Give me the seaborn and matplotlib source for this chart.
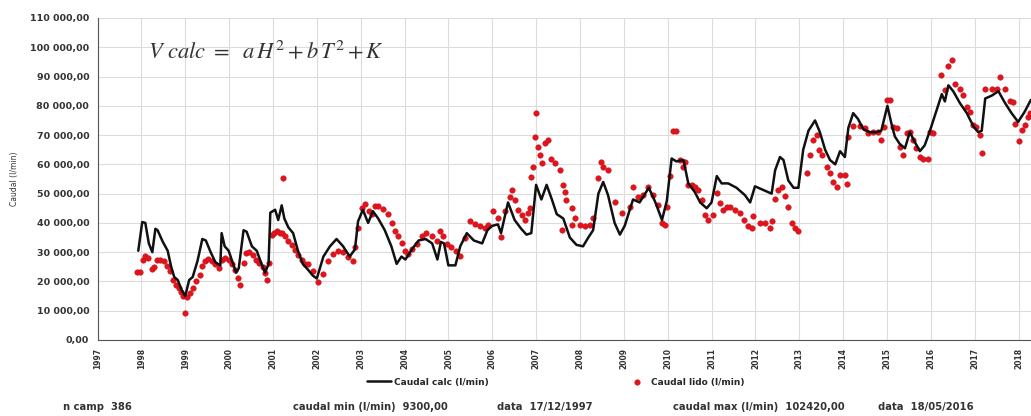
import matplotlib
matplotlib.use("Agg")
import matplotlib.pyplot as plt
import matplotlib.ticker as mticker
import seaborn as sns
import pandas as pd

# ---------------- data ----------------
calc_year = [1997.93, 1998.02, 1998.09, 1998.17, 1998.25, 1998.32, 1998.37, 1998.49, 1998.60, 1998.68,
             1998.75, 1998.83, 1998.92, 1999.00, 1999.09, 1999.17, 1999.28, 1999.39, 1999.47, 1999.58,
             1999.69, 1999.80, 1999.83, 1999.90, 1999.99, 2000.07, 2000.16, 2000.22, 2000.33, 2000.40,
             2000.52, 2000.63, 2000.74, 2000.82, 2000.90, 2000.94, 2001.05, 2001.12, 2001.20, 2001.26,
             2001.35, 2001.46, 2001.57, 2001.68, 2001.80, 2001.91, 2002.00, 2002.15, 2002.30, 2002.45,
             2002.60, 2002.75, 2002.87, 2002.94, 2003.05, 2003.17, 2003.28, 2003.40, 2003.55, 2003.70,
             2003.82, 2003.93, 2004.02, 2004.17, 2004.32, 2004.48, 2004.63, 2004.75, 2004.83, 2004.90,
             2005.00, 2005.16, 2005.27, 2005.42, 2005.58, 2005.77, 2005.89, 2006.00, 2006.13, 2006.20,
             2006.36, 2006.51, 2006.66, 2006.78, 2006.89, 2007.00, 2007.12, 2007.24, 2007.36, 2007.47,
             2007.62, 2007.77, 2007.92, 2008.07, 2008.19, 2008.30, 2008.42, 2008.53, 2008.64, 2008.79,
             2008.91, 2009.02, 2009.21, 2009.36, 2009.57, 2009.72, 2009.87, 2009.98, 2010.09, 2010.20,
             2010.36, 2010.47, 2010.62, 2010.74, 2010.89, 2011.00, 2011.12, 2011.23, 2011.38, 2011.57,
             2011.76, 2011.88, 2011.99, 2012.14, 2012.37, 2012.45, 2012.56, 2012.64, 2012.75, 2012.87,
             2012.98, 2013.09, 2013.21, 2013.36, 2013.47, 2013.59, 2013.70, 2013.82, 2013.93, 2014.04,
             2014.12, 2014.23, 2014.34, 2014.46, 2014.61, 2014.76, 2014.87, 2015.01, 2015.10, 2015.18,
             2015.29, 2015.41, 2015.52, 2015.64, 2015.75, 2015.86, 2015.98, 2016.13, 2016.25, 2016.32,
             2016.40, 2016.51, 2016.66, 2016.82, 2016.97, 2017.08, 2017.16, 2017.24, 2017.39, 2017.54,
             2017.69, 2017.84, 2017.99, 2018.14, 2018.28]
calc_value = [30500, 40300, 40000, 33000, 30000, 38000, 37500, 33500, 30500, 25000,
              21500, 20500, 17000, 15000, 20500, 21500, 27000, 34500, 34000, 30000,
              26500, 25500, 36500, 32000, 30500, 27000, 23000, 24500, 37500, 37000,
              32000, 30500, 26000, 23000, 26000, 43500, 44500, 41000, 46000, 41500,
              38500, 36500, 30500, 26000, 24000, 22000, 21000, 28500, 32000, 34500,
              32000, 28500, 31000, 40500, 44500, 40000, 44000, 41500, 37500, 32000,
              26000, 28500, 27500, 31000, 34000, 34500, 33000, 27500, 33500, 33000,
              25500, 25500, 32000, 36500, 34000, 33000, 37500, 39000, 39500, 36500,
              47000, 41000, 38000, 36000, 36500, 53000, 48000, 53000, 48000, 43000,
              41500, 35000, 32500, 32000, 35000, 37500, 50000, 54000, 49500, 40000,
              36000, 39000, 48000, 47000, 52000, 47000, 41000, 47500, 62000, 61000,
              61500, 53500, 50500, 47000, 45000, 47000, 56000, 53500, 53500, 52000,
              49500, 47000, 52500, 51500, 50000, 58000, 62500, 61500, 54500, 52000,
              52000, 65000, 71500, 75000, 71000, 65000, 61500, 60000, 64500, 62500,
              72500, 77500, 75500, 72000, 71000, 71000, 71500, 80000, 74000, 69500,
              67000, 65500, 71000, 67500, 64500, 66500, 71500, 78500, 84000, 81500,
              87000, 85000, 81000, 77500, 73000, 71000, 71500, 82500, 83500, 85000,
              81000, 77500, 74500, 78000, 82000]

lido_year = [1997.90, 1997.97, 1998.03, 1998.08, 1998.14, 1998.24, 1998.29, 1998.35, 1998.43, 1998.51,
             1998.58, 1998.66, 1998.73, 1998.79, 1998.85, 1998.90, 1998.96, 1999.00, 1999.04, 1999.10,
             1999.17, 1999.25, 1999.33, 1999.38, 1999.46, 1999.53, 1999.61, 1999.68, 1999.76, 1999.84,
             1999.91, 1999.99, 2000.06, 2000.14, 2000.21, 2000.25, 2000.33, 2000.39, 2000.46, 2000.54,
             2000.61, 2000.69, 2000.77, 2000.82, 2000.86, 2000.90, 2000.97, 2001.03, 2001.10, 2001.16,
             2001.20, 2001.23, 2001.27, 2001.35, 2001.43, 2001.50, 2001.58, 2001.66, 2001.73,
             2001.80, 2001.92, 2002.03, 2002.15, 2002.26, 2002.38, 2002.49, 2002.60, 2002.72, 2002.83,
             2002.87, 2002.95, 2003.02, 2003.10, 2003.18, 2003.25, 2003.33, 2003.40, 2003.52, 2003.63,
             2003.71, 2003.78, 2003.86, 2003.94, 2004.01, 2004.09, 2004.16, 2004.28, 2004.39, 2004.50,
             2004.62, 2004.73, 2004.81, 2004.88, 2004.96, 2005.07, 2005.18, 2005.26, 2005.37, 2005.49,
             2005.60, 2005.72, 2005.83,
             2005.91, 2006.02, 2006.13, 2006.21, 2006.29, 2006.40, 2006.44, 2006.51, 2006.59, 2006.67,
             2006.74, 2006.82, 2006.86, 2006.89, 2006.93, 2006.97, 2006.99, 2007.05, 2007.08, 2007.14,
             2007.20, 2007.27, 2007.35, 2007.43, 2007.54, 2007.58, 2007.62, 2007.65, 2007.69, 2007.81,
             2007.81, 2007.88, 2008.00, 2008.11, 2008.23, 2008.30, 2008.42, 2008.49, 2008.53, 2008.64,
             2008.79, 2008.95, 2009.14, 2009.21, 2009.33, 2009.44, 2009.56, 2009.67, 2009.78, 2009.86,
             2009.93,
             2009.98, 2010.05, 2010.13, 2010.20, 2010.28, 2010.36, 2010.40, 2010.47, 2010.55, 2010.62,
             2010.70, 2010.78, 2010.85, 2010.93, 2011.04, 2011.12, 2011.19, 2011.27, 2011.35, 2011.42,
             2011.54, 2011.65, 2011.73, 2011.84, 2011.92, 2011.95, 2012.11, 2012.22, 2012.34, 2012.37,
             2012.45, 2012.52, 2012.60, 2012.68, 2012.75, 2012.83, 2012.90, 2012.98, 2013.17, 2013.25,
             2013.32, 2013.40, 2013.44, 2013.51, 2013.63, 2013.70, 2013.78, 2013.86, 2013.93, 2014.05,
             2014.08,
             2014.12, 2014.23, 2014.38, 2014.50, 2014.57, 2014.69, 2014.80, 2014.86, 2014.94, 2014.99,
             2015.07, 2015.14, 2015.22, 2015.29, 2015.37, 2015.45, 2015.52, 2015.60, 2015.67, 2015.75,
             2015.83, 2015.93, 2015.98, 2016.05, 2016.24, 2016.32, 2016.40, 2016.49, 2016.55, 2016.66,
             2016.74, 2016.82, 2016.89, 2016.97, 2017.04, 2017.12, 2017.16, 2017.23, 2017.39, 2017.50,
             2017.57, 2017.69, 2017.80, 2017.88, 2017.91, 2018.00, 2018.07, 2018.14, 2018.21, 2018.25]
lido_value = [23100, 23100, 27500, 28600, 28000, 24300, 25000, 27300, 27500, 26900,
              25400, 23500, 20600, 18900, 17800, 16300, 14900, 9300, 14700, 16000,
              17800, 20000, 22300, 25400, 26900, 27700, 26900, 25800, 24600, 27500,
              28000, 27500, 25800, 24000, 21200, 18900, 26300, 29800, 30000, 29200,
              27500, 26300, 25000, 22900, 20600, 26300, 36000, 36700, 37200, 36700,
              36700, 55300, 35500, 33800, 32600, 30900, 29200, 27500, 25800,
              26000, 23600, 19700, 22500, 27000, 29300, 30500, 29900, 28200, 27000,
              31600, 38400, 45200, 46400, 44100, 43000, 45800, 45800, 44700, 43000,
              40100, 37300, 35600, 33300, 30500, 29300, 31000, 32700, 35600, 36700,
              35600, 33900, 37300, 35600, 32700, 31600, 30500, 28800, 35000, 40700,
              39500, 39000, 38400,
              39300, 43900, 41600, 35300, 43900, 49000, 51300, 47800, 44400, 42700,
              41000, 43300, 45000, 55800, 59200, 69400, 77700, 66000, 63200, 60300,
              67200, 68300, 62000, 60300, 58100, 37600, 53000, 50700, 47800, 45000,
              39300, 41600, 39300, 38800, 39300, 41600, 55200, 60900, 59200, 58100,
              47300, 43300, 45600, 52400, 49000, 49500, 52400, 49500, 46100, 39900,
              39300,
              45600, 56000, 71400, 71400, 61500, 59200, 60900, 53000, 53000, 52400,
              51300, 47800, 42700, 41000, 42700, 50100, 46700, 44400, 45600, 45600,
              44400, 43300, 41000, 38800, 38200, 42200, 39900, 39900, 38200, 40500,
              48100, 51300, 52400, 49200, 45600, 39900, 38200, 37400, 57200, 63200,
              68300, 70000, 64900, 63200, 59200, 56900, 54100, 52200, 56400, 56400,
              53300,
              69200, 73100, 73100, 72300, 70600, 71100, 71100, 68300, 72800, 81900,
              81900, 72800, 72300, 66000, 63200, 70600, 71100, 68300, 65500, 62600,
              62000, 62000, 71100, 70600, 90500, 85300, 93500, 95800, 87600, 85600,
              83600, 79700, 78000, 73400, 72800, 70000, 64000, 85600, 85600, 85600,
              89700, 85600, 81700, 81400, 73800, 68100, 71900, 73400, 76300, 77600]

year_ticks = list(range(1997, 2019))
y_ticks = list(range(0, 110001, 10000))

calc_label = "Caudal calc (l/min)"
lido_label = "Caudal lido (l/min)"
footer = ["n camp  386", "caudal min (l/min)  9300,00", "data  17/12/1997",
          "caudal max (l/min)  102420,00", "data  18/05/2016"]

# ---------------- plot ----------------
sns.set_theme(style="whitegrid")
plt.rcParams["font.family"] = ["DejaVu Sans"]
plt.rcParams["mathtext.fontset"] = "stix"

fig = plt.figure(figsize=(10.31, 4.16), dpi=100)
ax = fig.add_axes([97.5 / 1031, 1 - 340 / 416, (1031 - 97.5) / 1031, 322 / 416])

df_calc = pd.DataFrame({"ano": calc_year, "caudal": calc_value})
df_lido = pd.DataFrame({"ano": lido_year, "caudal": lido_value})

sns.scatterplot(data=df_lido, x="ano", y="caudal", ax=ax, color="#e3121b",
                edgecolor="#c0101a", linewidth=0.3, s=16, zorder=3, label=lido_label)
sns.lineplot(data=df_calc, x="ano", y="caudal", ax=ax, color="#111111",
             linewidth=1.8, zorder=4, label=calc_label, sort=False)

ax.set_xlim(1997, 1997 + (1031 - 97.5) / 43.86)
ax.set_ylim(0, 110000)
ax.set_xticks(year_ticks)
ax.set_xticklabels([str(y) for y in year_ticks], rotation=90, fontsize=5.5,
                   fontweight="bold", color="#333333")
ax.set_yticks(y_ticks)
ax.yaxis.set_major_formatter(mticker.FuncFormatter(
    lambda v, p: f"{v:,.2f}".replace(",", " ").replace(".", ",")))
for t in ax.get_yticklabels():
    t.set_fontsize(6.8)
    t.set_fontweight("bold")
    t.set_color("#333333")

ax.set_xlabel("")
ax.set_ylabel("Caudal (l/min)", fontsize=5.5, color="#333333", labelpad=8)
ax.grid(True, color="#dcdcdc", linewidth=0.8)
for s in ["top", "right"]:
    ax.spines[s].set_visible(False)
for s in ["left", "bottom"]:
    ax.spines[s].set_color("#555555")
    ax.spines[s].set_linewidth(0.8)
ax.tick_params(axis="x", direction="inout", length=5, width=0.8, color="#555555", pad=3)
ax.tick_params(axis="y", direction="out", length=3, width=0.8, color="#555555", pad=3)
ax.set_facecolor("white")

ax.text(0.054, 0.9, r"$V\ calc\ =\ \ a\,H^2+b\,T^2+K$", transform=ax.transAxes,
        fontsize=16.2, color="#333333", va="center", ha="left")

handles, labels = ax.get_legend_handles_labels()
ax.get_legend().remove()
order = [labels.index(calc_label), labels.index(lido_label)]
fig.legend([handles[i] for i in order], [labels[i] for i in order],
           loc="center", bbox_to_anchor=(556 / 1031, 1 - 382 / 416), ncol=2,
           frameon=False, columnspacing=15, handlelength=2.7, handletextpad=0.3,
           prop={"size": 6.5, "weight": "bold"})

footer_x = [63, 293, 497, 673, 878]
for x, txt in zip(footer_x, footer):
    fig.text(x / 1031, 1 - 407 / 416, txt, fontsize=7.2, fontweight="bold",
             color="#333333", ha="left", va="center")

fig.savefig("out.png", dpi=100, facecolor="white")
